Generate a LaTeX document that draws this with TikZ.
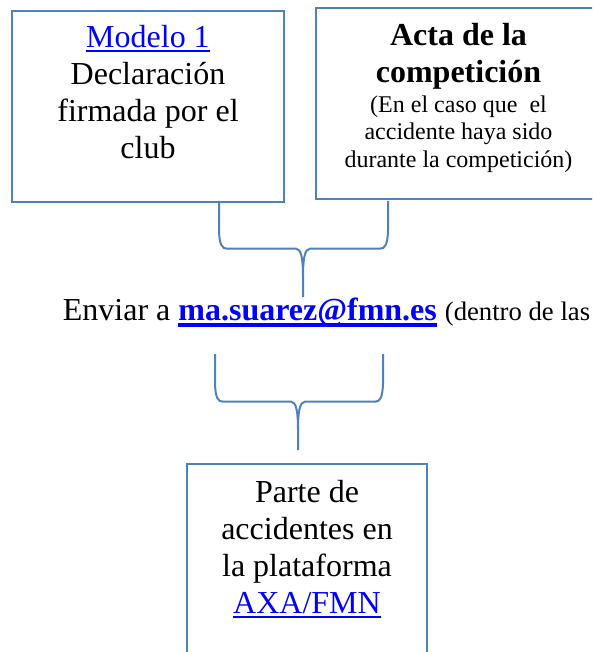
\documentclass[tikz,border=0pt]{standalone}
\usepackage{fontspec}
\setmainfont{Liberation Serif}
\usetikzlibrary{positioning}

\definecolor{marco}{RGB}{79,129,189}
\definecolor{enlace}{RGB}{0,0,255}

% texto de enlace, azul y subrayado
\newcommand{\vinculo}[2][2pt]{{\color{enlace}\setbox0=\hbox{#2}%
  \rlap{\rule[\dimexpr-2.5pt-#1\relax]{\wd0}{#1}}\box0}}

% llave: x izq, x der, y arriba, y barra, x punta, y punta
\newcommand{\llave}[6]{%
  \draw[llave] (#1,#3) -- (#1,#4-18) .. controls (#1+0.5,#4-4) and (#1+3,#4) .. (#1+8,#4)
    -- (#5-7,#4) .. controls (#5-2,#4) and (#5,#4+9) .. (#5,#4+28) -- (#5,#6);
  \draw[llave] (#2,#3) -- (#2,#4-18) .. controls (#2-0.5,#4-4) and (#2-3,#4) .. (#2-8,#4)
    -- (#5+7,#4) .. controls (#5+2,#4) and (#5,#4+9) .. (#5,#4+28);
}

\begin{document}
\begin{tikzpicture}[x=1pt,y=-1pt,
    caja/.style={draw=marco, line width=2pt, anchor=north west, inner sep=0pt},
    texto/.style={align=center, inner sep=0pt, anchor=north, font=\fontsize{32}{37}\selectfont},
    nota/.style={align=center, inner sep=0pt, anchor=north, font=\fontsize{24}{27.5}\selectfont},
    linea/.style={inner sep=0pt, anchor=base west, font=\fontsize{32}{37}\selectfont},
    llave/.style={draw=marco, line width=2pt}]

    \useasboundingbox (0,0) rectangle (592,652);
    \clip (0,0) rectangle (592,652);

    % cajas
    \node[caja, minimum width=272pt, minimum height=191pt] (modelo) at (11,10) {};
    \node[caja, minimum width=285pt, minimum height=191pt] (acta) at (315,7) {};
    \node[caja, minimum width=240pt, minimum height=240pt] (parte) at (186,463) {};

    \node[texto] (modelotxt) at ([yshift=-15pt]modelo.north)
        {\vinculo{Modelo 1}\\Declaración\\firmada por el\\club};
    \node[texto, font=\fontsize{32}{37}\selectfont\bfseries] (actatxt) at ([yshift=-16pt]acta.north)
        {Acta de la\\competición};
    \node[nota] (actanota) at ([yshift=-88.5pt]acta.north)
        {(En el caso que~ el\\accidente haya sido\\durante la competición)};
    \node[texto] (partetxt) at ([yshift=-17pt]parte.north)
        {Parte de\\accidentes en\\la plataforma\\\vinculo{AXA/FMN}};

    % correo
    \node[linea] (envio) at (62.7,320.7)
        {Enviar a \vinculo[3.5pt]{\bfseries ma.suarez@fmn.es} {\fontsize{26.7}{30}\selectfont (dentro de las}};

    % llaves
    \llave{219}{388}{201}{248.7}{303}{297}
    \llave{215}{383}{354}{401.7}{298}{450}

\end{tikzpicture}
\end{document}
